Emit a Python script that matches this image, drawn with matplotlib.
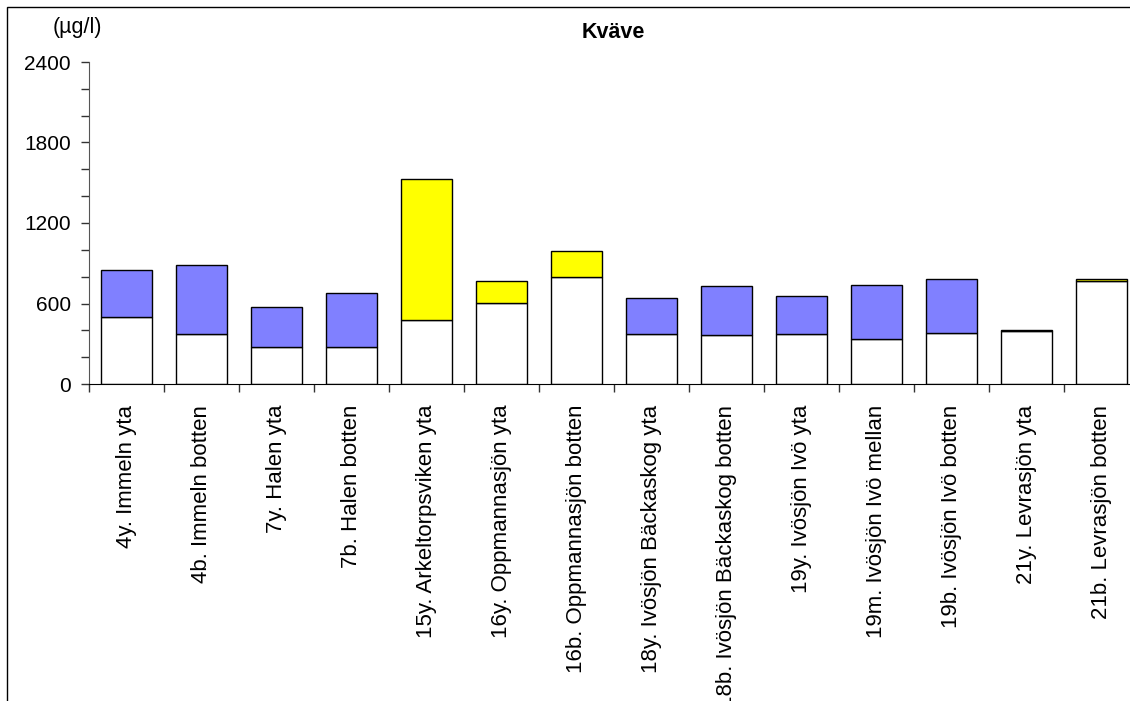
import matplotlib.pyplot as plt
import numpy as np
from matplotlib.patches import Rectangle

plt.rcParams['font.family'] = ['Liberation Sans', 'DejaVu Sans']

stations = ["4y. Immeln yta", "4b. Immeln botten", "7y. Halen yta", "7b. Halen botten",
            "15y. Arkeltorpsviken yta", "16y. Oppmannasjön yta", "16b. Oppmannasjön botten",
            "18y. Ivösjön Bäckaskog yta", "18b. Ivösjön Bäckaskog botten", "19y. Ivösjön Ivö yta",
            "19m. Ivösjön Ivö mellan", "19b. Ivösjön Ivö botten", "21y. Levrasjön yta",
            "21b. Levrasjön botten"]
bottom_part = [501, 370, 273, 278, 474, 601, 800, 373, 363, 374, 338, 378, 397, 765]
total = [850, 884, 576, 676, 1528, 770, 989, 643, 728, 655, 735, 780, 405, 785]
top_colors = ["#8080ff", "#8080ff", "#8080ff", "#8080ff", "#ffff00", "#ffff00", "#ffff00",
              "#8080ff", "#8080ff", "#8080ff", "#8080ff", "#8080ff", "#ffff00", "#ffff00"]

x = np.arange(len(stations))
top_part = np.array(total) - np.array(bottom_part)

fig = plt.figure(figsize=(11.3, 7.01), dpi=100)
ax = fig.add_axes([89 / 1130, 1 - 384 / 701, 1050 / 1130, 322 / 701])

ax.bar(x, bottom_part, width=0.667, color="white", edgecolor="black", linewidth=1)
ax.bar(x, top_part, bottom=bottom_part, width=0.667, color=top_colors,
       edgecolor="black", linewidth=1)

ax.set_xlim(-0.5, len(stations) - 0.5)
ax.set_ylim(0, 2400)
ax.set_yticks(np.arange(0, 2401, 600))
ax.set_yticks(np.arange(0, 2401, 200), minor=True)
ax.tick_params(axis="y", which="both", length=6, width=1, direction="out", labelsize=15,
               colors="#333333", labelcolor="black", pad=7)
ax.set_xticks(x)
ax.set_xticklabels(stations, rotation=90, fontsize=16)
ax.set_xticks(np.arange(-0.5, len(stations), 1), minor=True)
ax.tick_params(axis="x", which="major", length=0, pad=15)
ax.tick_params(axis="x", which="minor", length=6, width=1, direction="out", colors="#333333")

for s in ["top", "right"]:
    ax.spines[s].set_visible(False)
ax.spines["left"].set_color("#555555")
ax.spines["bottom"].set_color("black")

fig.text(613 / 1130, 1 - 32 / 701, "Kväve", ha="center", va="center", fontsize=15.5, fontweight="bold")
fig.text(77 / 1130, 1 - 28 / 701, "(µg/l)", ha="center", va="center", fontsize=15.5)

fig.patches.append(Rectangle((7 / 1130, -0.1), 1.2, 1.1 - 7 / 701, transform=fig.transFigure,
                             fill=False, edgecolor="black", linewidth=1))

plt.savefig("out.png", dpi=100)
